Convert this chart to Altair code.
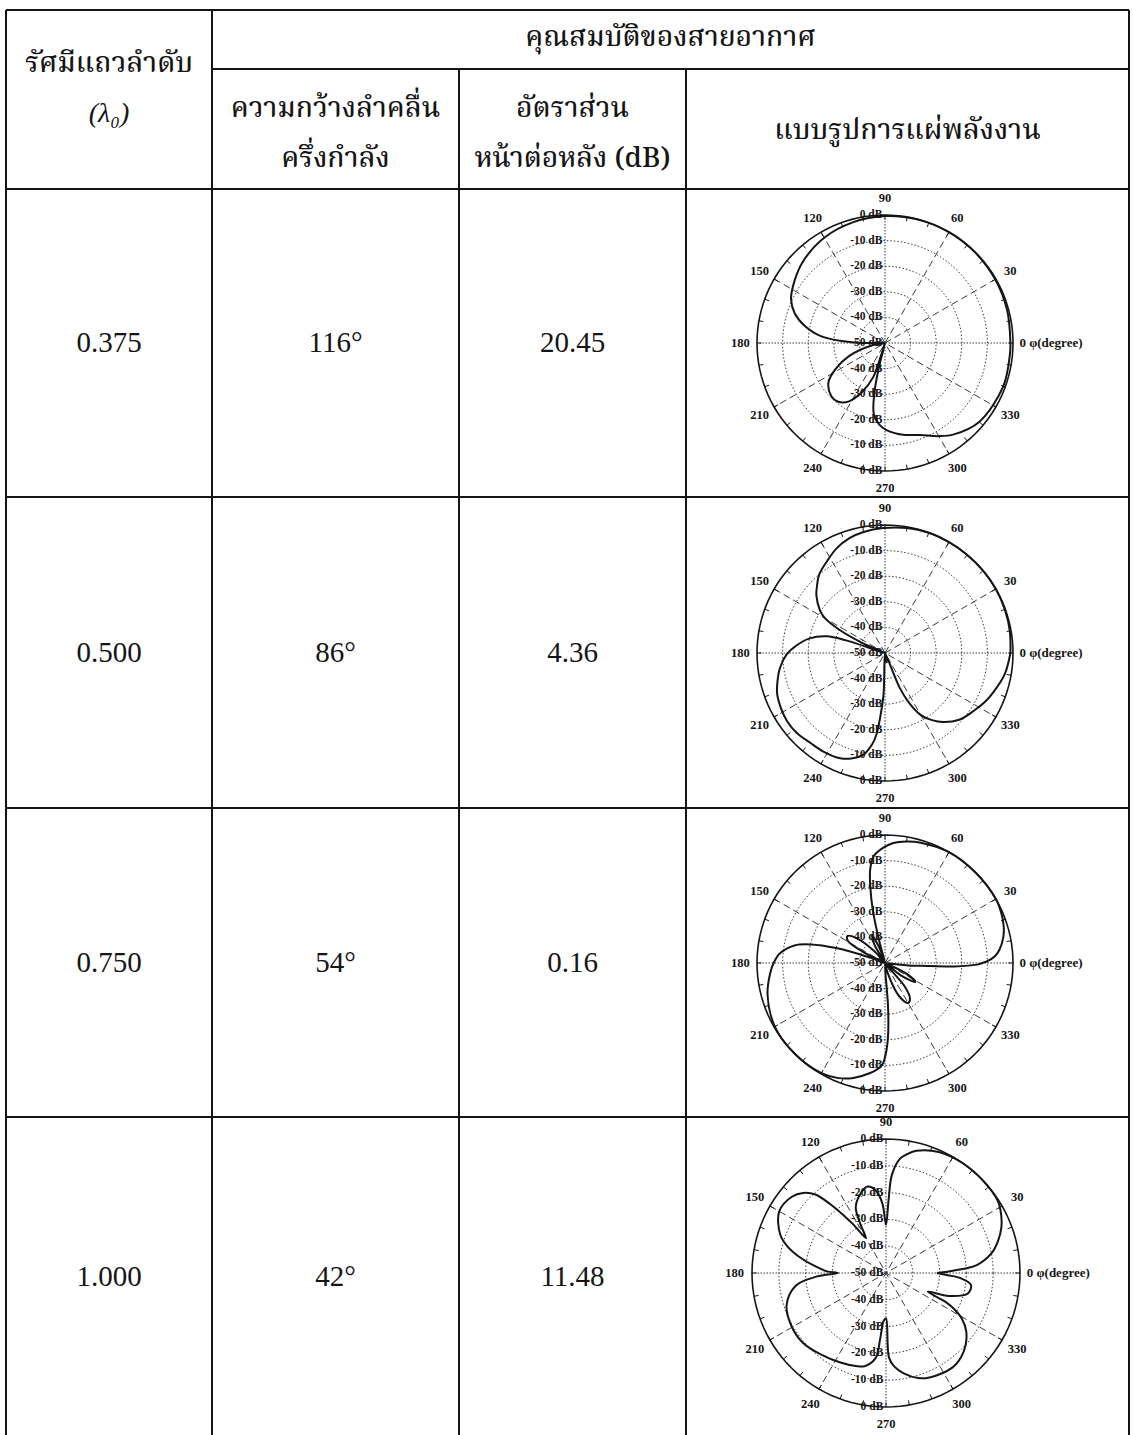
import numpy as np
import pandas as pd
import altair as alt

W, H = 1133, 1435

# ---- table content -------------------------------------------------------
spacing_labels = ["0.375", "0.500", "0.750", "1.000"]
beamwidth_deg = [116, 86, 54, 42]
front_to_back_db = [20.45, 4.36, 0.16, 11.48]

header_title = "คุณสมบัติของสายอากาศ"
header_spacing = ["รัศมีแถวลำดับ", "(λ₀)"]
header_hpbw = ["ความกว้างลำคลื่น", "ครึ่งกำลัง"]
header_fbr = ["อัตราส่วน", "หน้าต่อหลัง (dB)"]
header_pattern = "แบบรูปการแผ่พลังงาน"

# ---- radiation patterns: azimuth phi (deg) and normalised gain (dB) -------
phi_0375 = [0, 15, 30, 45, 60, 75, 90, 105, 120, 135, 145, 155, 162, 168, 174, 179, 184, 190,
            200, 208, 215, 225, 231, 238, 245, 251, 254, 256, 258, 261, 266, 271, 281, 291,
            300, 307, 320, 340, 355]
db_0375 = [-1.0, -0.6, -0.3, -0.1, 0.0, -0.1, -0.4, -1.2, -2.5, -4.8, -7.0, -9.5, -13.0, -18.0,
           -25.0, -38.0, -50.0, -45.0, -35.0, -28.0, -23.0, -20.45, -20.6, -23.0, -29.0, -36.0,
           -50.0, -40.0, -30.0, -22.0, -18.0, -16.0, -13.5, -11.5, -8.0, -5.3, -2.0, -0.8, -1.0]

phi_0500 = [0, 10, 20, 30, 40, 50, 60, 70, 80, 91, 100, 107, 115, 122, 130, 136, 140, 147, 150,
            153, 156, 159, 162, 164, 169, 175, 181, 188, 195, 201, 208, 215, 222, 230, 238, 247,
            253, 258, 262, 264, 266, 268, 270, 280, 290, 293, 296, 300, 305, 310, 318, 327, 334,
            340, 350]
db_0500 = [-1.0, -0.5, -0.2, 0.0, 0.0, 0.0, 0.0, 0.0, -0.4, -1.2, -2.0, -3.0, -5.0, -7.5, -10.0,
           -13.0, -15.0, -19.8, -23.0, -30.0, -40.0, -50.0, -34.0, -26.3, -20.0, -15.4, -11.5,
           -8.6, -6.5, -4.9, -4.0, -3.4, -3.5, -4.36, -4.6, -5.3, -7.0, -9.4, -14.0, -18.0, -26.0,
           -34.0, -50.0, -46.0, -50.0, -35.0, -28.0, -22.0, -18.0, -14.8, -11.0, -8.6, -6.5,
           -5.0, -2.5]

phi_0750 = [0, 1, 3.5, 6.6, 12, 17, 23, 30, 45, 60, 74, 80, 86, 91, 96, 99, 101, 103, 104.5, 106,
            110, 115, 120, 125, 132, 138, 144, 149, 153, 157, 160, 163, 166, 169, 174.6, 180, 185,
            195, 210, 225, 240, 248, 254.6, 262, 267, 269, 271, 272.5, 274, 276, 285, 293, 300,
            305, 310, 315, 322, 328, 333, 338, 350, 354, 355.6, 357.2, 359]
db_0750 = [-12.0, -10.0, -7.0, -5.0, -2.8, -1.5, -0.6, 0.0, 0.0, 0.0, -1.0, -1.8, -3.0, -5.0,
           -8.0, -13.0, -20.0, -29.0, -40.0, -50.0, -44.0, -38.0, -42.0, -50.0, -44.0, -36.0,
           -32.0, -33.0, -40.0, -50.0, -44.0, -30.0, -20.0, -14.0, -8.9, -6.5, -5.0, -2.5, -0.3,
           0.0, -0.3, -1.5, -3.4, -6.5, -9.0, -11.0, -16.0, -22.0, -33.0, -50.0, -46.0, -36.0,
           -32.0, -33.0, -38.0, -50.0, -42.0, -36.0, -40.0, -50.0, -50.0, -40.0, -36.0, -23.0,
           -14.0]

phi_1000 = [0, 2, 5, 10.5, 16, 21.6, 27, 32.7, 44, 55, 66, 76, 80, 83, 86.6, 88, 90, 93, 97, 102,
            108, 114.7, 117.5, 120, 124, 126, 129, 132, 136, 141, 150, 160, 165, 169.4, 175, 178.4,
            180, 183, 188, 198, 210, 220, 231, 243, 252, 257, 263, 265, 267, 270, 272, 275, 280,
            287, 292.6, 305, 312, 318, 324, 329, 332, 334, 336, 340, 346, 352, 356, 358]
db_1000 = [-31.0, -25.0, -16.0, -10.0, -6.5, -3.7, -1.8, -0.4, 0.0, 0.0, -0.7, -3.0, -5.0, -7.0,
           -13.4, -23.0, -32.0, -24.0, -19.0, -17.0, -19.0, -23.0, -29.0, -35.0, -28.0, -24.0,
           -17.0, -10.6, -7.0, -4.8, -4.0, -8.0, -12.0, -17.0, -24.0, -28.0, -32.0, -24.0, -16.0,
           -11.0, -9.5, -9.5, -11.0, -12.5, -13.5, -14.3, -18.0, -25.6, -32.0, -33.0, -18.5,
           -15.0, -12.0, -9.0, -7.8, -6.9, -8.0, -10.0, -13.0, -17.0, -21.0, -25.0, -33.0, -25.0,
           -18.5, -18.0, -22.0, -27.0]

patterns = [(phi_0375, db_0375), (phi_0500, db_0500), (phi_0750, db_0750), (phi_1000, db_1000)]

# polar axis annotation
angle_ticks = [0, 30, 60, 90, 120, 150, 180, 210, 240, 270, 300, 330]
db_floor = -50
db_rings = [-10, -20, -30, -40]
db_axis_levels = [0, -10, -20, -30, -40, -50, -40, -30, -20, -10, 0]
db_axis_labels = ["0 dB", "-10 dB", "-20 dB", "-30 dB", "-40 dB", "-50 dB",
                  "-40 dB", "-30 dB", "-20 dB", "-10 dB", "0 dB"]

# ---- layout ---------------------------------------------------------------
X_L, X_C1, X_C2, X_C3, X_R = 6, 212, 459, 686, 1129
Y_T, Y_SPLIT, Y_HEAD = 10, 69, 189
ROW_EDGES = [189, 497, 808, 1117, 1437]
PANELS = [(885, 343, 128), (885, 653, 128), (885, 963, 128), (886, 1273, 134)]

INK = "#151515"
SERIF = "Liberation Serif, Times New Roman, serif"
THAI = "Noto Serif Thai, Noto Sans Thai, Garuda, Loma, Norasi, Kinnari, Liberation Serif, serif"

# table rules
lines = [
    (X_L, X_R, Y_T, Y_T), (X_C1, X_R, Y_SPLIT, Y_SPLIT), (X_L, X_R, Y_HEAD, Y_HEAD),
    (X_L, X_L, Y_T, H), (X_C1, X_C1, Y_T, H), (X_C2, X_C2, Y_SPLIT, H),
    (X_C3, X_C3, Y_SPLIT, H), (X_R, X_R, Y_T, H),
]
for y in ROW_EDGES[1:-1]:
    lines.append((X_L, X_R, y, y))
lines_df = pd.DataFrame(lines, columns=["x", "x2", "y", "y2"])

table_rules = alt.Chart(lines_df).mark_rule(color=INK, strokeWidth=2).encode(
    x=alt.X("x:Q", scale=None), x2="x2:Q",
    y=alt.Y("y:Q", scale=None), y2="y2:Q",
)

col_mid = [(X_L + X_C1) / 2, (X_C1 + X_C2) / 2, (X_C2 + X_C3) / 2, (X_C3 + X_R) / 2]
head_rows = [
    (header_title, (X_C1 + X_R) / 2, 38),
    (header_spacing[0], col_mid[0], 64),
    (header_hpbw[0], col_mid[1], 109),
    (header_hpbw[1], col_mid[1], 159),
    (header_fbr[0], col_mid[2], 109),
    (header_fbr[1], col_mid[2], 159),
    (header_pattern, col_mid[3], 131),
]
head_df = pd.DataFrame(head_rows, columns=["text", "x", "y"])
head_text = alt.Chart(head_df).mark_text(
    font=THAI, fontSize=28, fontWeight=500, color=INK, baseline="middle", align="center"
).encode(x=alt.X("x:Q", scale=None), y=alt.Y("y:Q", scale=None), text="text:N")

lam_df = pd.DataFrame([(header_spacing[1], col_mid[0], 114)], columns=["text", "x", "y"])
lam_text = alt.Chart(lam_df).mark_text(
    font=SERIF, fontSize=28, fontStyle="italic", color=INK, baseline="middle", align="center"
).encode(x=alt.X("x:Q", scale=None), y=alt.Y("y:Q", scale=None), text="text:N")

cells = []
for i in range(4):
    yc = (ROW_EDGES[i] + ROW_EDGES[i + 1]) / 2
    cells.append((spacing_labels[i], col_mid[0], yc))
    cells.append((f"{beamwidth_deg[i]}°", col_mid[1], yc))
    cells.append((f"{front_to_back_db[i]:.2f}", col_mid[2], yc))
cell_df = pd.DataFrame(cells, columns=["text", "x", "y"])
cell_text = alt.Chart(cell_df).mark_text(
    font=SERIF, fontSize=29, color=INK, baseline="middle", align="center"
).encode(x=alt.X("x:Q", scale=None), y=alt.Y("y:Q", scale=None), text="text:N")

layers = [table_rules, head_text, lam_text, cell_text]

# ---- polar panels ---------------------------------------------------------
def rr_of(db):
    return (max(db, db_floor) - db_floor) / (-db_floor)

ring_rows = []
for lvl in db_rings + [0]:
    r = rr_of(lvl)
    for k, a in enumerate(range(0, 361, 3)):
        t = np.deg2rad(a)
        ring_rows.append((lvl, k, r * np.cos(t), r * np.sin(t)))
rings_df = pd.DataFrame(ring_rows, columns=["ring", "k", "u", "v"])

def spoke_df(angles):
    rows = []
    for a in angles:
        t = np.deg2rad(a)
        rows.append((np.cos(t), np.sin(t), -np.cos(t), -np.sin(t)))
    return pd.DataFrame(rows, columns=["u", "v", "u2", "v2"])

axis_spokes = spoke_df([0, 90])
diag_spokes = spoke_df([30, 60, 120, 150])
tick_rows = []
for a in range(0, 360, 10):
    t = np.deg2rad(a)
    tick_rows.append((np.cos(t), np.sin(t), 0.965 * np.cos(t), 0.965 * np.sin(t)))
ticks_df = pd.DataFrame(tick_rows, columns=["u", "v", "u2", "v2"])

LAB_R = 1.13
ang_rows = []
for a in angle_ticks:
    if a == 0:
        continue
    t = np.deg2rad(a)
    ang_rows.append((str(a), LAB_R * np.cos(t), LAB_R * np.sin(t)))
ang_df = pd.DataFrame(ang_rows, columns=["text", "u", "v"])
zero_df = pd.DataFrame([("0  φ(degree)", 1.05, 0.0)], columns=["text", "u", "v"])

dbl_rows = []
for i, (lvl, lab) in enumerate(zip(db_axis_levels, db_axis_labels)):
    sign = 1 if i < 5 else -1
    dbl_rows.append((lab, -0.02, sign * rr_of(lvl)))
dbl_df = pd.DataFrame(dbl_rows, columns=["text", "u", "v"])

for (phi, db), (cx, cy, R) in zip(patterns, PANELS):
    sx = alt.Scale(domain=[-cx / R, (W - cx) / R], nice=False, zero=False)
    sy = alt.Scale(domain=[(cy - H) / R, cy / R], nice=False, zero=False)
    X = alt.X("u:Q", scale=sx, axis=None)
    Y = alt.Y("v:Q", scale=sy, axis=None)

    inner = alt.Chart(rings_df[rings_df.ring != 0]).mark_line(
        color="#3a3a3a", strokeWidth=1, strokeDash=[1.5, 2]
    ).encode(x=X, y=Y, detail="ring:N", order="k:Q")
    outer = alt.Chart(rings_df[rings_df.ring == 0]).mark_line(
        color=INK, strokeWidth=1.6
    ).encode(x=X, y=Y, order="k:Q")
    ax = alt.Chart(axis_spokes).mark_rule(
        color="#3a3a3a", strokeWidth=1, strokeDash=[1.5, 1.5]
    ).encode(x=X, y=Y, x2="u2:Q", y2="v2:Q")
    dg = alt.Chart(diag_spokes).mark_rule(
        color="#3a3a3a", strokeWidth=1, strokeDash=[7, 4]
    ).encode(x=X, y=Y, x2="u2:Q", y2="v2:Q")
    tk = alt.Chart(ticks_df).mark_rule(color=INK, strokeWidth=1).encode(
        x=X, y=Y, x2="u2:Q", y2="v2:Q")

    pat = pd.DataFrame({"phi": list(phi) + [phi[0] + 360], "db": list(db) + [db[0]]})
    pat["k"] = range(len(pat))
    curve = alt.Chart(pat).transform_calculate(
        rr=f"(max(datum.db, {db_floor}) - ({db_floor})) / {-db_floor}"
    ).transform_calculate(
        u="datum.rr * cos(datum.phi * PI / 180)",
        v="datum.rr * sin(datum.phi * PI / 180)",
    ).mark_line(color=INK, strokeWidth=2, interpolate="catmull-rom").encode(
        x=X, y=Y, order="k:Q")

    angl = alt.Chart(ang_df).mark_text(
        font=SERIF, fontSize=12.5, fontWeight="bold", color=INK, align="center", baseline="middle"
    ).encode(x=X, y=Y, text="text:N")
    zl = alt.Chart(zero_df).mark_text(
        font=SERIF, fontSize=13, fontWeight="bold", color=INK, align="left", baseline="middle"
    ).encode(x=X, y=Y, text="text:N")
    dbl = alt.Chart(dbl_df).mark_text(
        font=SERIF, fontSize=11.5, fontWeight="bold", color=INK, align="right", baseline="middle"
    ).encode(x=X, y=Y, text="text:N")

    layers += [inner, ax, dg, outer, tk, curve, angl, zl, dbl]

chart = alt.layer(*layers).resolve_scale(
    x="independent", y="independent"
).properties(
    width=W, height=H, padding=0, autosize="none", background="white"
).configure_view(stroke=None)

chart.save("out.html", embed_options={"renderer": "svg", "actions": False})
